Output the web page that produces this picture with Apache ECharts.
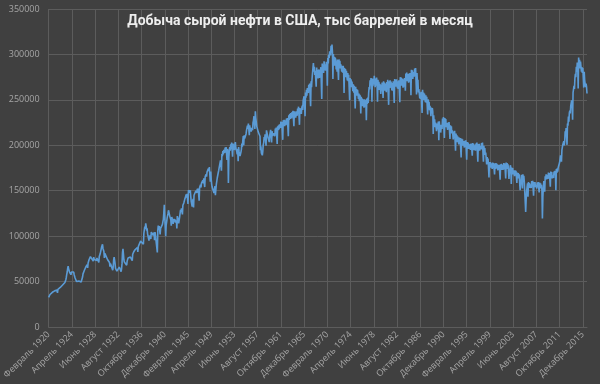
<!DOCTYPE html>
<html>
<head>
<meta charset="utf-8">
<script src="https://cdn.jsdelivr.net/npm/echarts@6/dist/echarts.min.js"></script>
<style>
html,body{margin:0;padding:0;background:#404040;}
#chart{width:600px;height:384px;}
</style>
</head>
<body>
<div id="chart"></div>
<script>
var titleText = 'Добыча сырой нефти в США, тыс баррелей в месяц';
var monthNames = ['Январь','Февраль','Март','Апрель','Май','Июнь','Июль','Август','Сентябрь','Октябрь','Ноябрь','Декабрь'];
var startYear = 1920;
var startMonth = 1; // 0-based: February

var prod1920s = [
32600,34500,34000,35800,35200,36800,37500,36200,38200,37000,38500,
39500,36000,39800,38500,40200,38800,40000,40800,37500,41500,39800,41200,
42500,39500,43500,42800,44500,43500,45500,46200,45000,47000,46000,48000,
49000,47500,52000,54500,58000,60500,64500,67000,64000,63500,60500,62500,
61000,57500,60500,59000,60000,58500,59500,60500,57500,56500,54000,55000,
52500,50000,51500,50000,51000,49500,50500,51000,49000,50000,48500,49500,
50000,47500,55000,58500,60500,60000,62500,64000,63000,66000,65500,67500,
68500,65000,70500,71500,74000,73500,76000,77500,76000,78500,76500,78000,
77500,72500,77000,74500,76000,73500,75000,75500,73000,76000,75000,77000,
77000,71000,77500,78000,80500,81500,85500,88000,86000,91000,86500,85000
];
var prod1930s = [
83000,76000,81000,79500,80000,77500,78000,76500,74000,75500,73000,72500,
71000,66500,70000,68500,67000,65500,68000,62500,66000,74000,77000,73500,
70000,64500,66000,62500,61500,60000,59500,62000,62500,66000,64500,67000,
65500,61000,64000,70000,82000,86000,80500,74000,71500,72000,70000,71500,
72000,68000,72500,73500,76000,74500,77000,77500,75500,77000,75000,77500,
78500,73000,80000,79500,82500,80500,84000,85000,83000,86000,84000,86500,
87500,82500,88500,88000,91000,89500,93000,94500,92500,96000,94500,96500,
97000,91000,103000,105000,110500,108000,114000,111000,106000,108500,102500,101000,
101500,95000,100500,98500,99000,97000,104500,106000,102500,104000,101000,103000,
104000,95500,104500,100500,101000,99500,102000,82000,106000,111500,108500,111000
];
var prod1940s = [
110000,102000,108500,107000,110000,109500,113000,116000,118500,126000,134500,121000,
110000,100000,112000,115500,119500,121000,125000,128500,129000,126500,121500,123000,
118000,111500,121000,122000,117500,113500,116500,119000,116000,118500,115000,114500,
117500,108500,122000,120000,117500,114000,113000,121000,125000,129000,126500,130500,
132000,124000,134000,133000,136500,136000,140500,142500,143500,146000,142500,146500,
146000,135500,150500,151000,152000,148000,150500,143500,138000,136500,132500,138000,
141000,131500,145000,143000,147000,146500,150000,151000,147500,152000,149000,152500,
152000,139000,153500,151500,156500,153500,158500,160000,157000,161500,158000,163500,
164000,154000,165500,163500,168000,165500,170500,172000,169000,174500,171500,176000,
178000,160000,171000,162500,157000,154000,153000,156000,152000,147500,151500,155000
];
var prod1950s = [
145000,143000,157000,158000,164000,163000,169500,172000,172500,178000,177000,183500,
185500,172000,190500,188000,193500,190000,195000,197000,191500,197500,193500,198000,
197500,184000,196000,192000,158500,187000,194500,198000,194000,201000,197000,203000,
204500,187500,202000,197500,196000,195000,201000,203500,197000,199000,193000,190000,
196000,182500,198000,193000,191500,188000,187000,192500,195500,202000,198500,205000,
210000,200000,211000,207500,208500,205500,212500,216500,215000,221500,218000,224000,
224500,211000,222000,215500,219500,215000,219000,219500,216500,225000,227500,232000,
233000,218000,237500,230000,228000,221000,220500,221500,215000,217000,212500,213000,
210000,194500,199000,191500,190500,189000,193000,200500,203000,209000,206500,212000,
213000,199500,216500,214500,215000,209000,208500,207000,203500,211000,212500,217000
];
var prod1960s = [
216000,203000,215500,210500,212000,208500,213000,214500,210000,218500,214000,219500,
219000,201500,221000,216500,222000,217500,223000,224500,219000,226000,219500,225500,
226000,206000,227500,221500,228000,221000,225000,227500,222000,229500,224000,230000,
230500,210000,233000,228000,234500,229000,235500,236000,229500,236500,231000,238000,
238500,221000,237500,231000,236000,230500,237500,238000,232500,240500,235000,242500,
242000,222500,241000,235500,240000,234500,241000,243500,239000,249500,248500,254000,
255000,232000,258000,252500,261000,254500,263000,265000,257500,266500,259500,268000,
268500,243000,270500,264000,272500,274000,285000,290500,281000,286500,277500,282000,
283500,264500,285500,277000,283000,273500,278000,283500,274000,283000,277000,286000,
285000,251000,290000,280500,287000,279500,292500,293500,282500,289000,282000,292000
];
var prod1970s = [
285000,265500,296000,290000,299500,296000,303500,305000,299000,309500,302000,311000,
303000,273000,300500,289000,297500,287500,296500,294000,283500,292500,281000,294500,
293000,272000,294500,286500,293000,284500,289000,290500,281000,287500,280000,287500,
285000,257500,285000,276000,284000,275000,282000,281500,271500,279500,270500,277500,
276000,249500,274000,265000,272500,264000,270000,268500,259500,267000,258000,265500,
264000,240500,264500,255000,262000,254500,261000,260500,251000,257000,248500,255500,
253000,235000,253500,244500,251500,243000,250500,250000,241500,250500,242500,250000,
246000,227500,251500,245500,252500,246500,258000,264000,261500,271500,266000,274000,
271000,248000,273500,265000,272500,267000,276500,277500,264000,273500,265500,274500,
268500,248000,272000,261500,270000,261000,267500,265000,256500,266500,260500,269000
];
var prod1980s = [
271000,252000,270500,262500,269000,260000,268000,268500,258500,269500,262000,272000,
270000,244500,270500,263000,271500,263500,270000,269000,260500,268500,260000,270500,
270000,246500,273000,265000,272000,264500,272500,271000,262500,270500,262000,271500,
271000,247500,275000,266500,274500,265500,273500,273000,263500,272500,264500,274000,
276000,260000,279000,270500,280000,270500,278500,279500,269000,279000,270000,279500,
277000,255000,283000,274000,282500,273000,280500,282000,275500,284500,277500,285000,
283000,256000,279500,268500,272000,258000,262000,260000,251500,258000,251000,259000,
260000,235500,261000,253000,258000,250000,257000,256500,247500,255000,247000,253500,
251500,234000,250500,242500,248000,238500,243500,242000,232000,241500,235000,241000,
237000,212500,233000,223500,228500,220000,225000,223000,215500,224000,217500,222500
];
var prod1990s = [
226000,205500,226500,218500,222500,214000,219500,222500,218000,229500,223000,231000,
230500,208000,230000,222500,229000,220000,224500,224000,217000,225000,218500,225500,
224000,207000,222000,215500,221000,213000,216500,212500,206500,215000,209000,216000,
214000,194000,213000,206000,211000,203500,209500,208000,201000,208500,202500,208000,
207500,186500,207500,200500,206500,199500,204500,204000,197500,205000,198500,205500,
204000,184000,203500,197000,203000,196000,201000,201500,195500,201500,195000,202000,
201000,188500,202500,195000,201500,194500,200000,201000,194000,202000,196500,203000,
201500,182000,201500,195500,201500,194000,199000,200500,195500,202500,196000,203000,
202000,182000,199500,192500,197000,189500,192000,190500,179000,187000,181500,185500,
183500,164500,181500,175500,181500,175500,180000,180500,174000,181000,175500,180500
];
var prod2000s = [
179500,168000,180000,174000,180500,174500,179500,180000,172500,178500,173000,178500,
178500,162000,179000,173500,179500,173000,178500,179000,173000,180500,174500,180000,
180000,163500,181000,175500,180500,174000,179000,178500,163000,170500,173000,178000,
175500,157500,175500,169500,175000,168000,172500,172000,166000,172500,167000,172000,
170500,158500,170000,164500,169500,163500,168000,167500,150500,158000,160500,167500,
168500,152500,168000,162500,166500,160000,158000,160000,126500,140000,149000,154000,
158000,143500,159500,154000,158500,153000,157000,157500,153000,160500,155500,161000,
160000,144500,159500,155000,159500,154000,156500,157500,152500,159000,154500,159500,
158500,148000,159000,154000,158000,152500,156500,150000,119500,143000,153000,160500,
162500,149000,166000,162500,168000,162500,167500,166500,163000,170000,165500,169500
];
var prod2010s = [
168500,154500,171000,166000,170500,163500,167000,167500,164000,171000,167000,172000,
169500,150500,174000,169500,174500,171000,175500,177000,173500,181000,181500,189000,
190500,182000,195000,193500,201000,199500,204500,200000,204500,215500,212500,219000,
218500,200500,224000,221500,231500,226000,235500,238000,235000,243500,241500,249500,
246000,228000,258000,256500,265500,262000,274000,278500,275000,286500,281000,291000,
288500,262500,296500,289000,294000,284500,292000,286500,281000,286000,279500,285000,
284000,263500,281000,271500,273500,264000,268000,264500,257000
];

var production = [].concat(prod1920s, prod1930s, prod1940s, prod1950s, prod1960s,
  prod1970s, prod1980s, prod1990s, prod2000s, prod2010s);

var categories = [];
for (var i = 0; i < production.length; i++) {
  var m = (startMonth + i) % 12;
  var y = startYear + Math.floor((startMonth + i) / 12);
  categories.push(monthNames[m] + ' ' + y);
}

var chart = echarts.init(document.getElementById('chart'), null, {renderer: 'canvas'});
chart.setOption({
  backgroundColor: '#404040',
  animation: false,
  title: {
    text: titleText,
    left: 'center',
    top: 9,
    textStyle: {color: '#eeeeee', fontSize: 14, fontWeight: 'bold', fontFamily: 'Roboto'}
  },
  grid: {left: 45, right: 13, top: 9, bottom: 57, containLabel: false},
  xAxis: {
    type: 'category',
    data: categories,
    boundaryGap: false,
    axisLine: {show: true, lineStyle: {color: '#5c5c5c', width: 1}},
    axisTick: {show: false},
    axisLabel: {
      interval: 49,
      rotate: 45,
      color: '#a6a6a6',
      fontSize: 9,
      fontFamily: 'Open Sans',
      margin: 6
    },
    splitLine: {show: true, interval: 49, lineStyle: {color: '#5c5c5c', width: 1}}
  },
  yAxis: {
    type: 'value',
    min: 0,
    max: 350000,
    interval: 50000,
    axisLine: {show: false},
    axisTick: {show: false},
    axisLabel: {
      color: '#a6a6a6', fontSize: 9, fontFamily: 'Open Sans', margin: 9,
      formatter: function (v) { return String(v); }
    },
    splitLine: {show: true, lineStyle: {color: '#5c5c5c', width: 1}}
  },
  series: [{
    type: 'line',
    data: production,
    showSymbol: false,
    symbol: 'none',
    lineStyle: {color: '#5b9bd5', width: 1.6},
    itemStyle: {color: '#5b9bd5'}
  }]
});
</script>
</body>
</html>
